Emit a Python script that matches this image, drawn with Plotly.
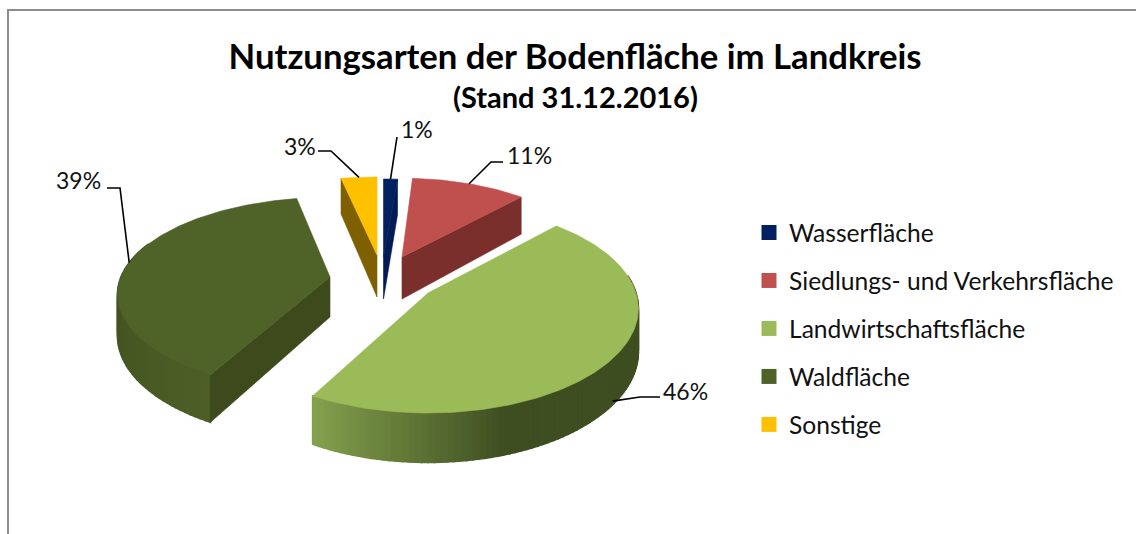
import math
import plotly.graph_objects as go

# ---- data ----
categories = ["Wasserfläche", "Siedlungs- und Verkehrsfläche", "Landwirtschaftsfläche", "Waldfläche", "Sonstige"]
values = [1, 11, 46, 39, 3]
colors = ["#002060", "#C0504D", "#9BBB59", "#4F6228", "#FFC000"]

# ---- 3-D pie projection settings (one entry per slice, same order) ----
apex = [(383.5, 257), (402, 257), (428, 293), (330, 277), (377, 255)]
radii = [(263, 92), (197, 93), (208, 102), (209, 94), (226, 92)]
persp = [0.18, 0.18, 0.15, 0.18, 0.18]
depth = [42, 42, 42, 40, 42]
cut_face = [1, 1, None, 0, 0]          # 0: start edge visible, 1: end edge visible
cut_color = ["#001B55", "#7B2F2D", None, "#3D4A1C", "#7F6000"]
rim_range = [None, None, (80, None), (None, 292), None]
rim_from = [None, None, "#3F4E21", "#3F4E20", None]
rim_to = [None, None, "#84A24E", "#4D5E26", None]
rim_fade = [None, None, (162, 208.8), (292, 208.8), None]
FONT = "Lato"

# leader lines: rim height fraction, elbow, line start, label position
leader_z = [0, 0, 0.92, 0, 0]
leader_elbow = [None, (491, 162), (640, 397), (120, 188), (331, 151)]
leader_tail = [(397, 137), (503, 162), (660, 397), (107, 188), (318, 151)]
label_pos = [(399, 129), (505, 155), (661, 391), (54, 180), (282, 146)]


def project(i, deg, z=0.0):
    a = math.radians(deg)
    s = 1 / (1 + persp[i] * math.cos(a))
    rx, ry = radii[i]
    return (apex[i][0] + rx * math.sin(a) * s,
            apex[i][1] - ry * math.cos(a) * s + depth[i] * s * z)


def mix(c0, c1, t):
    t = max(0, min(1, t))
    p = [int(c0[k:k + 2], 16) for k in (1, 3, 5)]
    q = [int(c1[k:k + 2], 16) for k in (1, 3, 5)]
    return "#%02X%02X%02X" % tuple(round(u + (v - u) * t) for u, v in zip(p, q))


def poly(xy, color, width=0.6, **kw):
    xs, ys = zip(*xy)
    return go.Scatter(x=list(xs) + [xs[0]], y=list(ys) + [ys[0]], mode="lines", fill="toself",
                      fillcolor=color, line=dict(color=color, width=width),
                      hoverinfo="skip", showlegend=False, **kw)


spans = []
c = 0.0
total = sum(values)
for v in values:
    spans.append((c * 360 / total, (c + v) * 360 / total))
    c += v

fig = go.Figure()

for i in [3, 2, 4, 0, 1]:
    start, end = spans[i]
    # curved outer wall, shaded in small strips
    if rim_range[i] is not None:
        lo = rim_range[i][0] if rim_range[i][0] is not None else start
        hi = rim_range[i][1] if rim_range[i][1] is not None else end
        n = int((hi - lo) / 1.5)
        f0, f1 = rim_fade[i]
        for k in range(n):
            d0 = lo + (hi - lo) * k / n
            d1 = lo + (hi - lo) * (k + 1) / n
            col = mix(rim_from[i], rim_to[i], ((d0 + d1) / 2 - f0) / (f1 - f0))
            fig.add_trace(poly([project(i, d0), project(i, d1), project(i, d1, 1), project(i, d0, 1)], col, width=1.6))
    # cut face
    if cut_face[i] is not None:
        e = spans[i][cut_face[i]]
        ax, ay = apex[i]
        fig.add_trace(poly([(ax, ay), project(i, e), project(i, e, 1), (ax, ay + depth[i])], cut_color[i]))
    # top surface
    m = max(4, int(end - start))
    rim = [project(i, start + (end - start) * k / m) for k in range(m + 1)]
    fig.add_trace(poly([apex[i]] + rim, colors[i], name=categories[i] + " (Fläche)"))

# legend entries
for i, name in enumerate(categories):
    fig.add_trace(go.Scatter(x=[None], y=[None], mode="markers", name=name, legendgroup=name,
                             marker=dict(symbol="square", size=15, color=colors[i])))

shapes = [dict(type="path", path="M 8 534 L 8 10 L 1136 10", xref="x", yref="y",
               line=dict(color="#8C8C8C", width=2))]
annotations = [dict(x=575, y=96, xref="x", yref="y", text="<b>(Stand 31.12.2016)</b>", showarrow=False,
                    xanchor="center", yanchor="middle", font=dict(family=FONT, size=29, color="#000000"))]
for i, v in enumerate(values):
    mid = sum(spans[i]) / 2
    px, py = project(i, mid, leader_z[i])
    pts = [leader_tail[i]] + ([leader_elbow[i]] if leader_elbow[i] else []) + [(px, py)]
    path = "M " + " L ".join(f"{x:.1f} {y:.1f}" for x, y in pts)
    shapes.append(dict(type="path", path=path, xref="x", yref="y", line=dict(color="#000000", width=1.6)))
    annotations.append(dict(x=label_pos[i][0], y=label_pos[i][1], xref="x", yref="y", text=f"{v}%",
                            showarrow=False, xanchor="left", yanchor="middle",
                            font=dict(family=FONT, size=23, color="#111111")))

fig.update_layout(
    width=1136, height=534,
    margin=dict(l=0, r=0, t=0, b=0),
    paper_bgcolor="white", plot_bgcolor="white",
    title=dict(text="<b>Nutzungsarten der Bodenfläche im Landkreis</b>",
               x=575 / 1136, xanchor="center", y=1 - 57 / 534, yanchor="middle",
               font=dict(family=FONT, size=34.7, color="#000000")),
    xaxis=dict(range=[0, 1136], visible=False, fixedrange=True),
    yaxis=dict(range=[534, 0], visible=False, fixedrange=True),
    legend=dict(x=749 / 1136, xanchor="left", y=1 - 210 / 534, yanchor="top",
                font=dict(family=FONT, size=24.6, color="#111111"),
                tracegroupgap=13, bgcolor="rgba(0,0,0,0)", traceorder="grouped"),
    shapes=shapes, annotations=annotations,
)

fig.write_html("out.html", config={"displayModeBar": False},
               post_script="document.body.style.margin='0';document.documentElement.style.overflow='hidden';")
